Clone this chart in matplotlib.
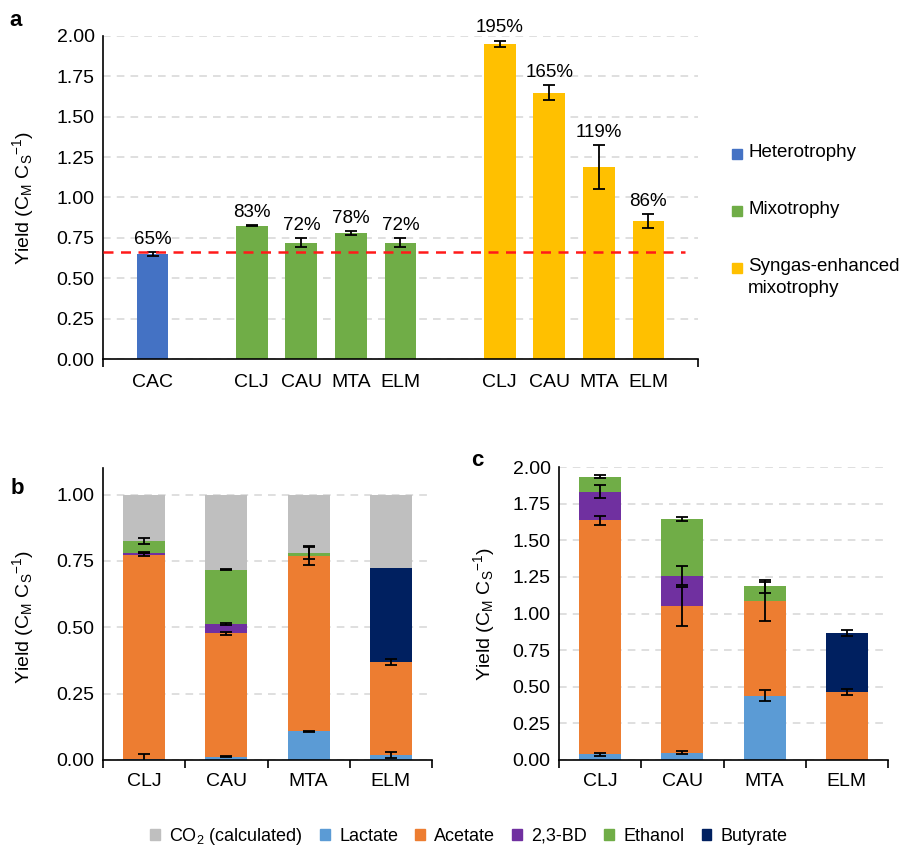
import matplotlib
matplotlib.use('Agg')
import matplotlib.pyplot as plt
import numpy as np
from matplotlib.patches import Patch, Rectangle

plt.rcParams['font.family'] = ['Liberation Sans', 'DejaVu Sans']
plt.rcParams['mathtext.fontset'] = 'custom'
plt.rcParams['mathtext.rm'] = 'Liberation Sans'
plt.rcParams['mathtext.it'] = 'Liberation Sans:italic'
plt.rcParams['mathtext.bf'] = 'Liberation Sans:bold'

# ---------------- data: panel a ----------------
a_groups = ['Heterotrophy', 'Mixotrophy', 'Syngas-enhanced\nmixotrophy']
a_group_colors = ['#4472C4', '#70AD47', '#FFC000']
a_labels = ['CAC', 'CLJ', 'CAU', 'MTA', 'ELM', 'CLJ', 'CAU', 'MTA', 'ELM']
a_group_idx = [0, 1, 1, 1, 1, 2, 2, 2, 2]
a_values = [0.648, 0.826, 0.720, 0.780, 0.720, 1.952, 1.649, 1.190, 0.856]
a_err = [0.012, 0.004, 0.028, 0.012, 0.028, 0.020, 0.045, 0.135, 0.043]
a_pct = ['65%', '83%', '72%', '78%', '72%', '195%', '165%', '119%', '86%']
a_baseline = 0.665

# ---------------- data: panels b, c ----------------
strains = ['CLJ', 'CAU', 'MTA', 'ELM']
products = ['Lactate', 'Acetate', '2,3-BD', 'Ethanol', 'Butyrate']
product_colors = ['#5B9BD5', '#ED7D31', '#7030A0', '#70AD47', '#002060']
co2_label = 'CO$_2$ (calculated)'
co2_color = '#BFBFBF'

# panel b (mixotrophy), individual segment heights
b_lactate = [0.002, 0.013, 0.108, 0.019]
b_acetate = [0.772, 0.464, 0.661, 0.350]
b_bd = [0.007, 0.036, 0.000, 0.000]
b_ethanol = [0.044, 0.204, 0.012, 0.000]
b_butyrate = [0.000, 0.000, 0.000, 0.354]
b_err_lactate = [0.020, 0.003, 0.002, 0.012]
b_err_acetate = [0.004, 0.005, 0.033, 0.010]
b_err_bd = [0.002, 0.003, 0.0, 0.0]
b_err_ethanol = [0.010, 0.003, 0.025, 0.0]
b_err_butyrate = [0.0, 0.0, 0.0, 0.0]

# panel c (syngas-enhanced mixotrophy)
c_lactate = [0.039, 0.050, 0.440, 0.000]
c_acetate = [1.597, 0.998, 0.642, 0.462]
c_bd = [0.195, 0.209, 0.000, 0.000]
c_ethanol = [0.103, 0.388, 0.105, 0.000]
c_butyrate = [0.000, 0.000, 0.000, 0.404]
c_err_lactate = [0.010, 0.010, 0.035, 0.0]
c_err_acetate = [0.030, 0.130, 0.130, 0.020]
c_err_bd = [0.045, 0.064, 0.0, 0.0]
c_err_ethanol = [0.010, 0.015, 0.045, 0.0]
c_err_butyrate = [0.0, 0.0, 0.0, 0.020]

FS = 14
fig = plt.figure(figsize=(9, 8.47), dpi=100)
W, H = 900, 847


def axes_px(l, r, b, t):
    return fig.add_axes([l / W, 1 - b / H, (r - l) / W, (b - t) / H])


grid_kw = dict(color='#D6D6D6', linestyle=(0, (5, 4)), linewidth=1.1)


def style(ax):
    for s in ['top', 'right']:
        ax.spines[s].set_visible(False)
    for s in ['left', 'bottom']:
        ax.spines[s].set_linewidth(1.2)
    ax.set_axisbelow(True)
    ax.yaxis.grid(True, **grid_kw)
    ax.tick_params(axis='y', length=0, pad=6, labelsize=FS)
    ax.yaxis.set_major_formatter(matplotlib.ticker.FormatStrFormatter('%.2f'))


ylab = 'Yield (C$_\\mathrm{M}$ C$_\\mathrm{S}$$^{-1}$)'

# ---------------- panel a ----------------
ax = axes_px(103, 698, 359, 36)
style(ax)
pos = [i + g for i, g in enumerate(a_group_idx)]
cols = [a_group_colors[g] for g in a_group_idx]
ax.bar(pos, a_values, width=0.64, color=cols, zorder=2)
ax.errorbar(pos, a_values, yerr=a_err, fmt='none', ecolor='black',
            elinewidth=1.3, capsize=4, capthick=1.3, zorder=3, clip_on=False)
for p, v, e, t in zip(pos, a_values, a_err, a_pct):
    ax.annotate(t, (p, v + e), xytext=(0, 3), textcoords='offset points',
                ha='center', va='bottom', fontsize=FS - 0.5, annotation_clip=False)
ax.axhline(a_baseline, xmin=0, xmax=0.978, color='#FF1A1A', linestyle=(0, (4, 3)),
           linewidth=1.8, zorder=4)
ax.set_xlim(-1, 11)
ax.set_ylim(0, 2.0)
ax.set_yticks(np.arange(0, 2.01, 0.25))
ax.set_xticks(pos, a_labels)
ax.tick_params(axis='x', which='major', length=0, pad=11, labelsize=FS)
ax.set_xticks([-1, 11], minor=True)
ax.tick_params(axis='x', which='minor', length=6, width=1.2, direction='out')
ax.set_ylabel(ylab, fontsize=FS)
ax.yaxis.set_label_coords(-0.113, 0.5)

# legend for panel a
leg_y = [154, 211, 268]
for name, col, yy in zip(a_groups, a_group_colors, leg_y):
    fig.patches.append(Rectangle((732 / W, 1 - (yy + 5) / H), 10 / W, 10 / H,
                                 transform=fig.transFigure, color=col))
    fig.text(748 / W, 1 - (yy - 10) / H, name, fontsize=FS - 0.5, ha='left',
             va='top', linespacing=1.4)


# ---------------- stacked panels ----------------
def stacked(ax, segs, errs, ymax, yticks, with_co2):
    x = np.arange(len(strains))
    bottom = np.zeros(len(strains))
    tops = []
    for seg, col in zip(segs, product_colors):
        seg = np.array(seg)
        ax.bar(x, seg, bottom=bottom, width=0.51, color=col, zorder=2)
        tops.append((bottom + seg).copy())
        bottom = bottom + seg
    if with_co2:
        ax.bar(x, 1 - bottom, bottom=bottom, width=0.51, color=co2_color, zorder=2)
    for seg, err, top in zip(segs, errs, tops):
        for xi, s, e, t in zip(x, seg, err, top):
            if s > 0 and e > 0:
                ax.errorbar(xi, t, yerr=e, fmt='none', ecolor='black',
                            elinewidth=1.3, capsize=4, capthick=1.3, zorder=3)
    ax.set_xlim(-0.5, len(strains) - 0.5)
    ax.set_ylim(0, ymax)
    ax.set_yticks(yticks)
    ax.set_xticks(x, strains)
    ax.tick_params(axis='x', which='major', length=0, pad=9, labelsize=FS)
    ax.set_xticks(np.arange(-0.5, len(strains)), minor=True)
    ax.tick_params(axis='x', which='minor', length=6, width=1.2, direction='out')


axb = axes_px(103, 432, 760, 468)
style(axb)
stacked(axb, [b_lactate, b_acetate, b_bd, b_ethanol, b_butyrate],
        [b_err_lactate, b_err_acetate, b_err_bd, b_err_ethanol, b_err_butyrate],
        1.1, np.arange(0, 1.01, 0.25), True)
axb.set_ylabel(ylab, fontsize=FS)
axb.yaxis.set_label_coords(-0.204, 0.49)

axc = axes_px(559, 888, 760, 467)
style(axc)
stacked(axc, [c_lactate, c_acetate, c_bd, c_ethanol, c_butyrate],
        [c_err_lactate, c_err_acetate, c_err_bd, c_err_ethanol, c_err_butyrate],
        2.0, np.arange(0, 2.01, 0.25), False)
axc.set_ylabel(ylab, fontsize=FS)
axc.yaxis.set_label_coords(-0.188, 0.5)

# panel letters
fig.text(16 / W, 1 - 20 / H, 'a', fontsize=16, fontweight='bold', ha='center', va='center')
fig.text(17 / W, 1 - 488 / H, 'b', fontsize=16, fontweight='bold', ha='center', va='center')
fig.text(477 / W, 1 - 460 / H, 'c', fontsize=16, fontweight='bold', ha='center', va='center')

# bottom legend
handles = [Patch(color=co2_color)] + [Patch(color=c) for c in product_colors]
labels = [co2_label] + products
fig.legend(handles, labels, loc='center', bbox_to_anchor=(469 / W, 1 - 836 / H),
           ncol=6, frameon=False, fontsize=FS - 1, handlelength=0.55,
           handleheight=0.55, handletextpad=0.5, columnspacing=0.95)

fig.savefig('out.png', dpi=100)
